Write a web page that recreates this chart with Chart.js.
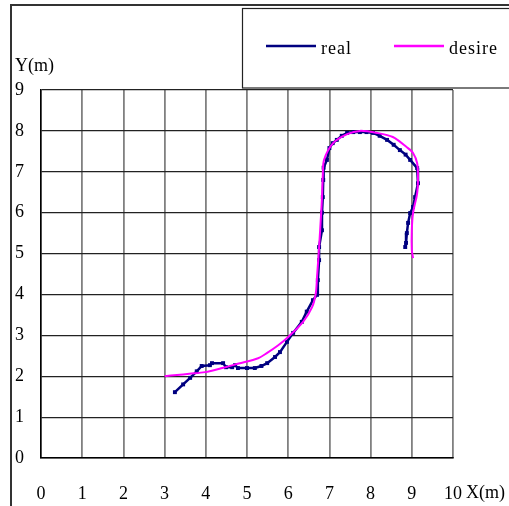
<!DOCTYPE html>
<html>
<head>
<meta charset="utf-8">
<script src="https://cdn.jsdelivr.net/npm/chart.js@4"></script>
<style>
  html, body { margin: 0; padding: 0; background: #fff; }
  #wrap { width: 509px; height: 506px; }
</style>
</head>
<body>
<div id="wrap"><canvas id="pathChart" width="509" height="506"></canvas></div>
<script>
// measured robot path
const realX = [3.25, 3.45, 3.62, 3.78, 3.90, 4.10, 4.15, 4.42, 4.49, 4.64, 4.71, 4.78, 5.00, 5.19, 5.35, 5.49, 5.68, 5.80, 5.97, 6.12,
    6.33, 6.45, 6.60, 6.70, 6.72, 6.75, 6.75, 6.82, 6.82, 6.84, 6.85, 6.86, 6.94, 7.00, 7.08, 7.18, 7.30, 7.43, 7.58, 7.74,
    7.90, 8.06, 8.22, 8.40, 8.56, 8.71, 8.85, 8.96, 9.13, 9.15, 9.08, 9.03, 8.96, 8.91, 8.88, 8.86, 8.84];
const realY = [1.61, 1.80, 1.96, 2.12, 2.25, 2.27, 2.32, 2.32, 2.22, 2.22, 2.27, 2.20, 2.20, 2.20, 2.25, 2.32, 2.47, 2.59, 2.84, 3.06,
    3.33, 3.58, 3.86, 3.99, 4.35, 4.84, 5.16, 5.57, 6.00, 6.38, 6.80, 7.10, 7.29, 7.58, 7.70, 7.78, 7.88, 7.95, 7.97, 7.97,
    7.97, 7.95, 7.88, 7.78, 7.66, 7.53, 7.42, 7.29, 7.09, 6.72, 6.38, 6.14, 5.99, 5.75, 5.50, 5.26, 5.16];

// desired path
const desireX = [3.00, 3.30, 3.60, 3.98, 4.40, 4.80, 5.27, 5.49, 5.75, 6.00, 6.36, 6.58, 6.67, 6.70, 6.75, 6.80, 6.82, 6.84, 6.87, 7.09,
    7.43, 7.74, 8.16, 8.54, 8.88, 9.03, 9.13, 9.15, 9.13, 9.03, 9.00, 9.00, 9.03];
const desireY = [2.00, 2.03, 2.06, 2.10, 2.20, 2.31, 2.44, 2.57, 2.75, 2.96, 3.33, 3.69, 4.03, 4.43, 5.16, 5.99, 6.38, 6.92, 7.29, 7.70,
    7.92, 8.00, 7.95, 7.85, 7.60, 7.46, 7.21, 6.87, 6.48, 5.99, 5.57, 5.09, 4.89];

const xTitle = 'X(m)';
const yTitle = 'Y(m)';
const FONT = '"Liberation Serif", "DejaVu Serif", serif';

function toPoints(xs, ys) {
    return xs.map((x, i) => ({ x: x, y: ys[i] }));
}

// frame, legend box and axis titles
const decorPlugin = {
    id: 'decor',
    afterDraw(chart) {
        const c = chart.ctx;
        c.save();
        c.strokeStyle = '#333';
        c.lineWidth = 2;
        c.beginPath();
        c.moveTo(509, 5);
        c.lineTo(11, 5);
        c.lineTo(11, 506);
        c.stroke();

        // legend
        c.lineWidth = 1.2;
        c.strokeStyle = '#222';
        c.strokeRect(242.5, 8.5, 290, 79.5);
        c.font = '18px ' + FONT;
        c.fillStyle = '#000';
        c.textBaseline = 'alphabetic';
        c.letterSpacing = '1px';
        const items = [[266, 0], [394, 1]];
        items.forEach(([x0, idx]) => {
            const ds = chart.data.datasets[idx];
            c.strokeStyle = ds.borderColor;
            c.lineWidth = 2.5;
            c.beginPath();
            c.moveTo(x0, 46);
            c.lineTo(x0 + 50, 46);
            c.stroke();
            c.fillText(ds.label, x0 + 55, 54);
        });
        c.letterSpacing = '0px';

        // titles
        c.fillText(yTitle, 15, 71);
        c.fillText(xTitle, 466, 498);
        c.restore();
    }
};

new Chart(document.getElementById('pathChart').getContext('2d'), {
    type: 'scatter',
    data: {
        datasets: [{
            label: 'real',
            data: toPoints(realX, realY),
            showLine: true,
            borderColor: '#000080',
            backgroundColor: '#000080',
            borderWidth: 2.5,
            pointStyle: 'rect',
            pointRadius: 1,
            order: 2
        }, {
            label: 'desire',
            data: toPoints(desireX, desireY),
            showLine: true,
            borderColor: '#ff00ff',
            backgroundColor: '#ff00ff',
            borderWidth: 2,
            pointRadius: 0,
            tension: 0.3,
            order: 1
        }]
    },
    options: {
        responsive: false,
        animation: false,
        layout: { padding: { left: 15, top: 90, right: 56, bottom: 0 } },
        plugins: {
            legend: { display: false },
            tooltip: { enabled: false }
        },
        scales: {
            x: {
                type: 'linear',
                min: 0,
                max: 10,
                afterFit(scale) { scale.height = 48; },
                ticks: { stepSize: 1, padding: 25, color: '#000', font: { family: FONT, size: 18 } },
                grid: { color: '#808080', lineWidth: 1.8, drawTicks: false },
                border: { color: '#000', width: 1.5 }
            },
            y: {
                type: 'linear',
                min: 0,
                max: 9,
                afterFit(scale) { scale.width = 26; },
                ticks: { stepSize: 1, crossAlign: 'far', color: '#000', font: { family: FONT, size: 18 } },
                grid: { color: '#222', lineWidth: 1.2, drawTicks: false },
                border: { color: '#000', width: 1.5 }
            }
        }
    },
    plugins: [decorPlugin]
});
</script>
</body>
</html>
